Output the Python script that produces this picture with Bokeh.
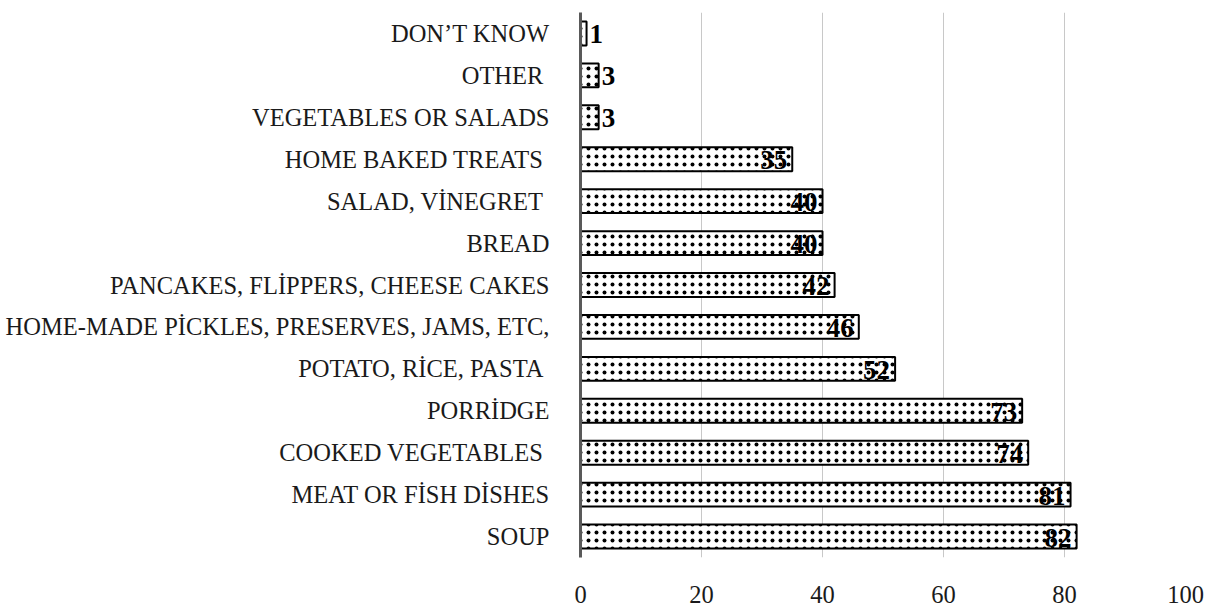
from bokeh.plotting import figure
from bokeh.models import ColumnDataSource, FixedTicker, LabelSet
from bokeh.embed import file_html
from bokeh.resources import INLINE

# Categories listed bottom to top
categories = [
    "SOUP",
    "MEAT OR FİSH DİSHES",
    "COOKED VEGETABLES ",
    "PORRİDGE",
    "POTATO, RİCE, PASTA ",
    "HOME-MADE PİCKLES, PRESERVES, JAMS, ETC,",
    "PANCAKES, FLİPPERS, CHEESE CAKES",
    "BREAD",
    "SALAD, VİNEGRET ",
    "HOME BAKED TREATS ",
    "VEGETABLES OR SALADS",
    "OTHER ",
    "DON’T KNOW",
]
values = [82, 81, 74, 73, 52, 46, 42, 40, 40, 35, 3, 3, 1]
x_ticks = [0, 20, 40, 60, 80, 100]

FONT = "Liberation Serif"

src = ColumnDataSource(dict(cat=categories, val=values))
inside = ColumnDataSource(dict(
    cat=[c for c, v in zip(categories, values) if v >= 10],
    val=[v for v in values if v >= 10],
    lab=[str(v) for v in values if v >= 10],
))
outside = ColumnDataSource(dict(
    cat=[c for c, v in zip(categories, values) if v < 10],
    val=[v for v in values if v < 10],
    lab=[str(v) for v in values if v < 10],
))

p = figure(
    width=1211, height=606,
    y_range=categories, x_range=(0, 100),
    output_backend="svg", toolbar_location=None,
    min_border_left=580, min_border_right=26,
    min_border_top=12, min_border_bottom=49,
)
p.outline_line_color = None
p.y_range.range_padding = 0

p.hbar(y="cat", right="val", height=0.57, source=src,
       fill_color="white", line_color="black", line_width=2,
       hatch_pattern="dot", hatch_color="black", hatch_scale=8, hatch_weight=0.5)

p.add_layout(LabelSet(x="val", y="cat", text="lab", source=inside,
                      x_offset=-5, y_offset=-1, text_align="right", text_baseline="middle",
                      text_font=FONT, text_font_size="27px", text_font_style="bold",
                      text_color="black"))
p.add_layout(LabelSet(x="val", y="cat", text="lab", source=outside,
                      x_offset=3, y_offset=-1, text_align="left", text_baseline="middle",
                      text_font=FONT, text_font_size="27px", text_font_style="bold",
                      text_color="black"))

# x axis: labels only
p.xaxis.ticker = FixedTicker(ticks=x_ticks)
p.xaxis.axis_line_color = None
p.xaxis.major_tick_line_color = None
p.xaxis.minor_tick_line_color = None
p.xaxis.major_label_standoff = 22
p.xaxis.major_label_text_font = FONT
p.xaxis.major_label_text_font_size = "24.5px"
p.xaxis.major_label_text_color = "#1a1a1a"

# y axis: thick gray baseline with category labels
p.yaxis.axis_line_color = "#595959"
p.yaxis.axis_line_width = 3
p.yaxis.major_tick_line_color = None
p.yaxis.minor_tick_line_color = None
p.yaxis.major_label_standoff = 25
p.yaxis.major_label_text_font = FONT
p.yaxis.major_label_text_font_size = "24.5px"
p.yaxis.major_label_text_color = "#1a1a1a"

p.xgrid.grid_line_color = "#c8c8c8"
p.xgrid.grid_line_width = 1
p.xgrid.ticker = FixedTicker(ticks=x_ticks[1:])
p.ygrid.grid_line_color = None

open("out.html", "w").write(file_html(p, INLINE))
